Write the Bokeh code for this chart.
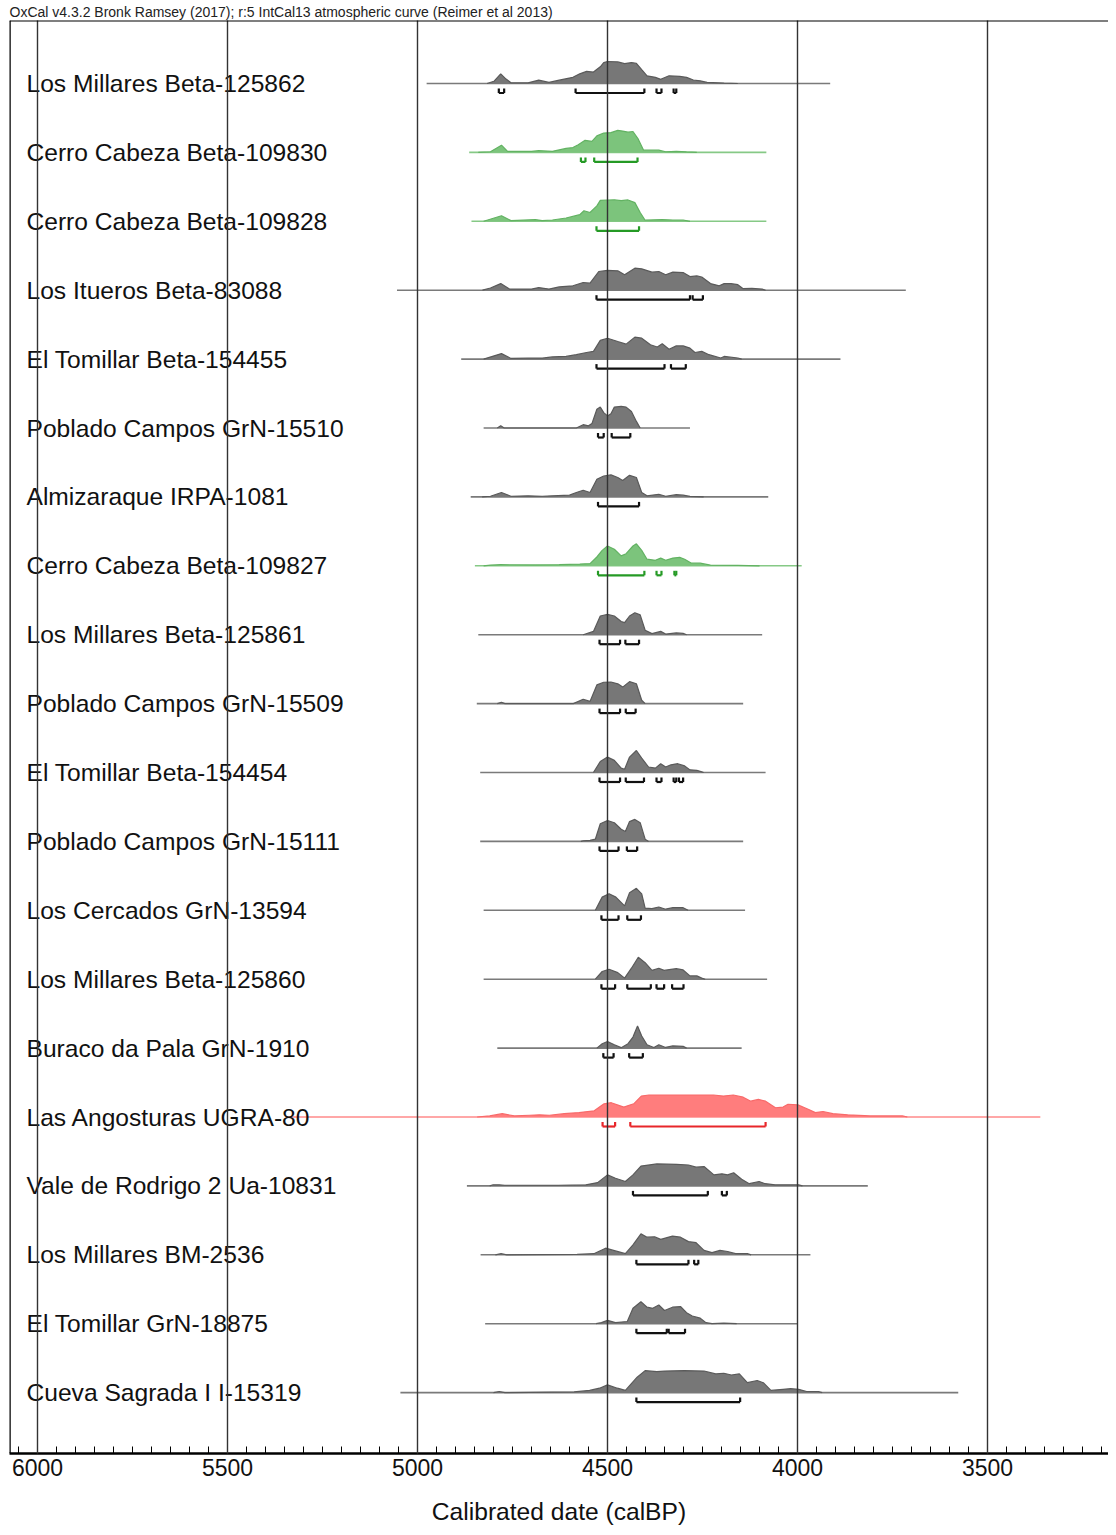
from bokeh.plotting import figure
from bokeh.models import Range1d, SingleIntervalTicker, Span, ColumnDataSource
from bokeh.core.properties import value
from bokeh.embed import file_html
from bokeh.resources import INLINE

# ---------------- data ----------------
header = "OxCal v4.3.2 Bronk Ramsey (2017); r:5 IntCal13 atmospheric curve (Reimer et al 2013)"
x_label = "Calibrated date (calBP)"

labels = [
    "Los Millares Beta-125862", "Cerro Cabeza Beta-109830", "Cerro Cabeza Beta-109828",
    "Los Itueros Beta-83088", "El Tomillar Beta-154455", "Poblado Campos GrN-15510",
    "Almizaraque IRPA-1081", "Cerro Cabeza Beta-109827", "Los Millares Beta-125861",
    "Poblado Campos GrN-15509", "El Tomillar Beta-154454", "Poblado Campos GrN-15111",
    "Los Cercados GrN-13594", "Los Millares Beta-125860", "Buraco da Pala GrN-1910",
    "Las Angosturas UGRA-80", "Vale de Rodrigo 2 Ua-10831", "Los Millares BM-2536",
    "El Tomillar GrN-18875", "Cueva Sagrada I I-15319",
]
groups = ["grey", "green", "green", "grey", "grey", "grey", "grey", "green", "grey", "grey",
          "grey", "grey", "grey", "grey", "grey", "red", "grey", "grey", "grey", "grey"]

range_start = [4976, 4864, 4858, 5054, 4885, 4826, 4860, 4849, 4840, 4844,
               4835, 4835, 4826, 4826, 4790, 5347, 4870, 4834, 4822, 5045]
range_end = [3914, 4082, 4082, 3715, 3887, 4283, 4077, 3989, 4093, 4143,
             4084, 4143, 4138, 4080, 4147, 3361, 3815, 3966, 4000, 3577]

# probability profiles (date calBP, relative probability)
prof_01 = [(4817, 0), (4799, .1), (4781, .44), (4767, .2), (4754, .03), (4709, .03), (4681, .15),
           (4654, .05), (4627, .15), (4591, .28), (4573, .44), (4555, .55), (4537, .52), (4519, .76),
           (4510, .95), (4500, 1), (4473, .98), (4455, .9), (4437, .95), (4424, .92), (4410, .63),
           (4396, .35), (4374, .28), (4360, .19), (4338, .35), (4310, .32), (4292, .28), (4274, .16),
           (4256, .12), (4238, .05), (4193, .02), (4157, 0)]
prof_02 = [(4840, 0), (4808, .03), (4779, .33), (4763, .05), (4700, .05), (4681, .08), (4645, .05),
           (4609, .18), (4591, .22), (4577, .35), (4559, .55), (4541, .5), (4528, .75), (4510, .88),
           (4491, .9), (4473, 1), (4460, .97), (4446, .92), (4433, .95), (4419, .6), (4405, .1),
           (4365, .1), (4347, .03), (4319, .05), (4292, .02), (4265, 0)]
prof_03 = [(4826, 0), (4779, .25), (4754, .03), (4690, .08), (4672, .03), (4645, .06), (4609, .15),
           (4573, .3), (4562, .48), (4546, .4), (4528, .7), (4519, .95), (4482, .98), (4464, .94),
           (4446, .97), (4428, .85), (4414, .4), (4401, .05), (4356, .08), (4328, .06), (4301, .06),
           (4283, 0)]
prof_04 = [(4829, 0), (4808, .1), (4781, .3), (4758, .05), (4700, .05), (4681, .12), (4654, .05),
           (4627, .15), (4591, .2), (4564, .35), (4546, .32), (4523, .85), (4500, .9), (4473, .88),
           (4455, .7), (4428, 1), (4410, .97), (4383, .82), (4365, .85), (4347, .7), (4328, .82),
           (4301, .8), (4283, .62), (4265, .65), (4252, .6), (4229, .3), (4206, .2), (4193, .3),
           (4175, .3), (4157, .25), (4143, .07), (4120, .08), (4093, .05), (4084, 0)]
prof_05 = [(4826, 0), (4779, .25), (4754, .03), (4709, .04), (4672, .04), (4645, .1), (4609, .12),
           (4582, .2), (4555, .3), (4537, .35), (4519, .85), (4500, .95), (4473, .8), (4451, .68),
           (4428, 1), (4410, .95), (4387, .65), (4369, .55), (4356, .7), (4338, .45), (4319, .6),
           (4301, .6), (4283, .5), (4270, .3), (4252, .35), (4233, .2), (4202, .05), (4193, .12),
           (4157, .05), (4147, 0)]
prof_06 = [(4790, 0), (4781, .1), (4772, 0), (4582, 0), (4564, .15), (4550, .1), (4541, .2),
           (4528, .85), (4519, .95), (4510, .7), (4500, .55), (4491, .65), (4482, .95), (4464, .98),
           (4451, .95), (4437, .75), (4424, .3), (4414, 0)]
prof_07 = [(4830, 0), (4808, .03), (4779, .2), (4754, .03), (4709, .05), (4672, .03), (4645, .05),
           (4600, .08), (4582, .2), (4564, .3), (4546, .2), (4528, .8), (4510, .95), (4491, 1),
           (4473, .88), (4460, .75), (4442, .98), (4424, .88), (4410, .2), (4396, .05), (4365, .12),
           (4347, .03), (4319, .1), (4301, .08), (4283, .02), (4247, 0)]
prof_08 = [(4826, 0), (4808, .03), (4781, .05), (4690, .04), (4627, .05), (4573, .08), (4546, .1),
           (4528, .4), (4514, .7), (4500, .9), (4482, .75), (4464, .45), (4451, .55), (4433, .9),
           (4424, 1), (4410, .7), (4396, .3), (4374, .25), (4360, .35), (4347, .25), (4328, .35),
           (4310, .38), (4297, .3), (4279, .12), (4256, .12), (4229, .03), (4157, .02), (4100, 0)]
prof_09 = [(4564, 0), (4537, .15), (4519, .85), (4500, .92), (4482, .85), (4464, .6), (4455, .55),
           (4442, .85), (4428, 1), (4414, .9), (4401, .2), (4383, .05), (4360, .15), (4347, .03),
           (4319, .08), (4301, .06), (4292, 0)]
prof_10 = [(4790, 0), (4779, .06), (4770, 0), (4590, 0), (4564, .2), (4546, .1), (4528, .85),
           (4510, .97), (4491, .98), (4473, .9), (4460, .75), (4442, 1), (4424, .9), (4410, .15),
           (4401, 0)]
prof_11 = [(4537, 0), (4519, .5), (4500, .7), (4482, .55), (4464, .2), (4455, .15), (4442, .7),
           (4424, 1), (4410, .65), (4392, .25), (4374, .2), (4360, .4), (4347, .25), (4333, .35),
           (4315, .4), (4297, .3), (4283, .12), (4265, .1), (4252, .03), (4247, 0)]
prof_12 = [(4570, 0), (4564, .03), (4546, .05), (4532, .1), (4519, .8), (4500, .95), (4482, .85),
           (4464, .55), (4453, .45), (4442, .9), (4428, 1), (4414, .85), (4401, .1), (4392, 0)]
prof_13 = [(4532, 0), (4514, .6), (4496, .75), (4478, .6), (4455, .2), (4442, .8), (4424, 1),
           (4410, .75), (4401, .1), (4383, .08), (4365, .15), (4347, .05), (4328, .12), (4301, .12),
           (4288, 0)]
prof_14 = [(4532, 0), (4514, .35), (4496, .45), (4473, .3), (4455, .05), (4437, .5), (4419, 1),
           (4401, .75), (4383, .4), (4365, .5), (4351, .4), (4333, .45), (4319, .48), (4301, .42),
           (4283, .15), (4265, .15), (4252, .05), (4243, 0)]
prof_15 = [(4528, 0), (4514, .2), (4500, .3), (4482, .15), (4464, .02), (4446, .2), (4433, .5),
           (4421, 1), (4410, .55), (4396, .15), (4378, .03), (4365, .15), (4347, .03), (4328, .1),
           (4301, .08), (4292, 0)]
prof_16 = [(4843, 0), (4810, .05), (4777, .15), (4745, .05), (4705, .08), (4679, .1), (4653, .08),
           (4614, .15), (4575, .2), (4535, .28), (4509, .6), (4490, .65), (4457, .45), (4431, .6),
           (4411, .95), (4391, 1), (4221, 1), (4195, .95), (4169, 1), (4143, .9), (4123, .72),
           (4103, .8), (4084, .72), (4058, .42), (4038, .45), (4025, .58), (3999, .55), (3972, .35),
           (3953, .2), (3933, .25), (3907, .15), (3868, .1), (3809, .05), (3724, .05), (3711, 0)]
prof_17 = [(4810, 0), (4801, .05), (4785, .05), (4770, .03), (4630, .03), (4557, .05), (4526, .15),
           (4500, .5), (4479, .35), (4453, .2), (4433, .5), (4412, .9), (4370, 1), (4318, .98),
           (4287, .95), (4267, .85), (4246, .88), (4220, .5), (4199, .55), (4184, .5), (4168, .6),
           (4147, .3), (4127, .1), (4101, .2), (4085, .1), (4059, .05), (3997, .05), (3987, 0)]
prof_18 = [(4795, 0), (4780, .05), (4765, 0), (4580, .02), (4536, .05), (4505, .3), (4484, .2),
           (4453, .05), (4433, .45), (4412, .95), (4396, .8), (4376, .82), (4360, .7), (4329, .85),
           (4308, .8), (4287, .6), (4267, .55), (4246, .2), (4225, .1), (4204, .2), (4184, .15),
           (4163, .05), (4132, .05), (4122, 0)]
prof_19 = [(4530, 0), (4516, .05), (4500, .15), (4479, .05), (4448, .1), (4433, .7), (4412, 1),
           (4396, .75), (4381, .7), (4365, .85), (4350, .6), (4329, .75), (4308, .78), (4292, .5),
           (4277, .35), (4256, .25), (4241, .05), (4225, 0), (4194, .03), (4160, 0)]
prof_20 = [(4800, 0), (4785, .05), (4770, 0), (4588, .03), (4547, .1), (4521, .2), (4500, .35),
           (4474, .2), (4453, .1), (4422, .7), (4401, 1), (4370, .95), (4350, .98), (4298, 1),
           (4246, .98), (4215, .85), (4194, .88), (4174, .8), (4153, .85), (4132, .45), (4106, .55),
           (4090, .45), (4070, .1), (4038, .15), (4018, .18), (3997, .15), (3976, .05), (3945, .05),
           (3935, 0)]
profiles = [prof_01, prof_02, prof_03, prof_04, prof_05, prof_06, prof_07, prof_08, prof_09, prof_10,
            prof_11, prof_12, prof_13, prof_14, prof_15, prof_16, prof_17, prof_18, prof_19, prof_20]

# highest probability density ranges (from, to) in calBP
brackets = [
    [(4786, 4772), (4584, 4403), (4371, 4358), (4326, 4319)],
    [(4570, 4558), (4535, 4421)],
    [(4529, 4417)],
    [(4529, 4283), (4276, 4249)],
    [(4529, 4350), (4333, 4294)],
    [(4525, 4510), (4489, 4440)],
    [(4525, 4417)],
    [(4525, 4403), (4371, 4358), (4324, 4319)],
    [(4521, 4467), (4453, 4417)],
    [(4521, 4467), (4452, 4426)],
    [(4521, 4467), (4452, 4404), (4371, 4358), (4326, 4319), (4312, 4301)],
    [(4521, 4471), (4449, 4422)],
    [(4516, 4471), (4448, 4412)],
    [(4516, 4480), (4448, 4386), (4371, 4351), (4330, 4300)],
    [(4511, 4484), (4443, 4407)],
    [(4513, 4480), (4440, 4084)],
    [(4433, 4236), (4199, 4186)],
    [(4424, 4287), (4272, 4261)],
    [(4424, 4344), (4339, 4296)],
    [(4424, 4151)],
]

# ---------------- styles ----------------
FILL = {"grey": "#777777", "green": "#7cc47c", "red": "#ff7d7d"}
EDGE = {"grey": "#5a5a5a", "green": "#62b262", "red": "#f86a6a"}
BASE = {"grey": "#7a7a7a", "green": "#86c986", "red": "#ff8a8a"}
BRK = {"grey": "#111111", "green": "#259a25", "red": "#e8262a"}

n = len(labels)
px_row = 68.9
H = 22.0 / px_row          # height of a distribution peak (row units)
b_low = -9.5 / px_row      # bracket line below baseline
b_high = -5.0 / px_row     # bracket end tick top

x_left, x_right = 6073.7, 3181.6
y_top = (n - 1) + (83 - 20) / px_row
y_bot = y_top - 1433 / px_row

p = figure(width=1108, height=1527, output_backend="svg", toolbar_location=None,
           x_range=Range1d(x_left, x_right), y_range=Range1d(y_bot, y_top),
           min_border_left=9, min_border_right=0, min_border_top=20, min_border_bottom=74)
p.outline_line_color = None
p.background_fill_color = "white"
p.border_fill_color = "white"
p.yaxis.visible = False
p.ygrid.visible = False

p.title.text = header
p.title.text_font = "Liberation Sans"
p.title.text_font_size = "14px"
p.title.text_font_style = "normal"
p.title.text_color = "#222222"
p.title.standoff = 1
p.title.offset = 0
p.title.align = "left"

ys = [n - 1 - i for i in range(n)]

# range lines
src = ColumnDataSource(dict(x0=range_start, x1=range_end, y=ys,
                            c=[BASE[g] for g in groups]))
p.segment(x0="x0", y0="y", x1="x1", y1="y", line_color="c", line_width=1.6, source=src)

# distributions
for i in range(n):
    g = groups[i]
    d = [pt[0] for pt in profiles[i]]
    top = [ys[i] + H * pt[1] for pt in profiles[i]]
    p.varea(x=d, y1=[ys[i]] * len(d), y2=top, fill_color=FILL[g])
    p.line(x=d, y=top, line_color=EDGE[g], line_width=1.2)

# brackets
bx0, bx1, by0, by1, bc = [], [], [], [], []
for i in range(n):
    c = BRK[groups[i]]
    for a, b in brackets[i]:
        yl = ys[i] + b_low
        yh = ys[i] + b_high
        bx0 += [a, a, b]; bx1 += [b, a, b]
        by0 += [yl, yl, yl]; by1 += [yl, yh, yh]
        bc += [c, c, c]
p.segment(x0="x0", y0="y0", x1="x1", y1="y1", line_color="c", line_width=2.2,
          source=ColumnDataSource(dict(x0=bx0, x1=bx1, y0=by0, y1=by1, c=bc)))

# row labels
p.text(x=[6029] * n, y=ys, text=labels, text_font=value("Liberation Sans"),
       text_font_size="24.6px", text_baseline="middle", text_align="left", text_color="#111111")

# axis & grid
p.xaxis.ticker = SingleIntervalTicker(interval=500, num_minor_ticks=10)
p.xaxis.major_tick_in = 8
p.xaxis.major_tick_out = 0
p.xaxis.minor_tick_in = 7
p.xaxis.minor_tick_out = 0
p.xaxis.axis_line_width = 2.5
p.xaxis.axis_line_color = "black"
p.xaxis.major_tick_line_color = "black"
p.xaxis.minor_tick_line_color = "black"
p.xaxis.major_label_text_font = "Liberation Sans"
p.xaxis.major_label_text_font_size = "23px"
p.xaxis.major_label_text_color = "#111111"
p.xaxis.major_label_standoff = 5
p.xaxis.axis_label = x_label
p.xaxis.axis_label_text_font = "Liberation Sans"
p.xaxis.axis_label_text_font_size = "24.6px"
p.xaxis.axis_label_text_font_style = "normal"
p.xaxis.axis_label_text_color = "#111111"
p.xaxis.axis_label_standoff = 19
p.xgrid.ticker = SingleIntervalTicker(interval=500)
p.xgrid.grid_line_color = "#333333"
p.xgrid.grid_line_width = 1.4
p.xgrid.level = "guide"

# frame edges (left, top)
p.add_layout(Span(location=x_left, dimension="height", line_color="black", line_width=2.5))
p.add_layout(Span(location=y_top, dimension="width", line_color="black", line_width=2))

open("out.html", "w").write(file_html(p, INLINE))
